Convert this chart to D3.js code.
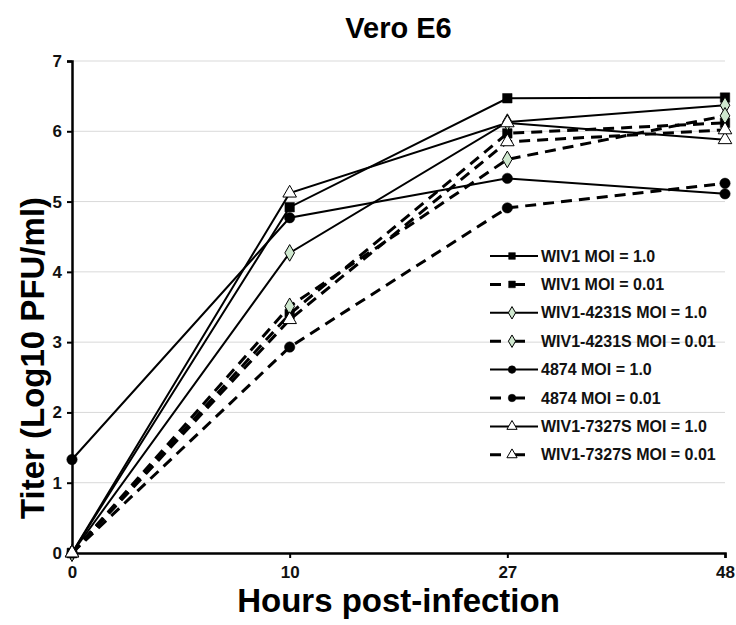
<!DOCTYPE html>
<html>
<head>
<meta charset="utf-8">
<script src="https://cdn.jsdelivr.net/npm/d3@7"></script>
<style>
body{margin:0;background:#fff;}
text{font-family:"Liberation Sans",Arial,sans-serif;font-weight:bold;}
.tick text{font-size:17px;}
</style>
</head>
<body>
<div id="chartContainer"></div>
<script>
// data
const hours=["0","10","27","48"];
const seriesNames=["WIV1 MOI = 1.0","WIV1 MOI = 0.01","WIV1-4231S MOI = 1.0","WIV1-4231S MOI = 0.01",
    "4874 MOI = 1.0","4874 MOI = 0.01","WIV1-7327S MOI = 1.0","WIV1-7327S MOI = 0.01"];
const wiv1Hi=[0,4.92,6.47,6.48];
const wiv1Lo=[0,3.40,5.97,6.12];
const s4231Hi=[0,4.27,6.13,6.37];
const s4231Lo=[0,3.51,5.60,6.22];
const s4874Hi=[1.33,4.77,5.33,5.11];
const s4874Lo=[0,2.93,4.91,5.26];
const s7327Hi=[0,5.12,6.12,5.88];
const s7327Lo=[0,3.32,5.85,6.02];
const yTicks=[0,1,2,3,4,5,6,7];

const markers=["square","square","diamond","diamond","circle","circle","triangle","triangle"];
const dashed=[false,true,false,true,false,true,false,true];
const allValues=[wiv1Hi,wiv1Lo,s4231Hi,s4231Lo,s4874Hi,s4874Lo,s7327Hi,s7327Lo];

const W=736,H=625;
const margin={top:61,right:11,bottom:72,left:72};
const width=W-margin.left-margin.right,
    height=H-margin.top-margin.bottom;

const svg=d3.select("#chartContainer").append("svg")
    .attr("width",W).attr("height",H);
const g=svg.append("g").attr("transform",`translate(${margin.left},${margin.top})`);

const x=d3.scalePoint().domain(hours).range([0,width]);
const y=d3.scaleLinear().domain([0,7]).range([height,0]);

// grid
g.selectAll(".grid").data(yTicks.slice(1)).enter().append("line")
    .attr("x1",0).attr("x2",width)
    .attr("y1",d=>y(d)).attr("y2",d=>y(d))
    .attr("stroke","#d9d9d9").attr("stroke-width",1);

// axes
const yAxis=g.append("g").call(d3.axisLeft(y).tickValues(yTicks).tickFormat(d3.format("d")).tickSize(5).tickPadding(5));
const xAxis=g.append("g").attr("transform",`translate(0,${height})`)
    .call(d3.axisBottom(x).tickSize(5).tickPadding(8));
[yAxis,xAxis].forEach(a=>{
    a.attr("font-family",null);
    a.select(".domain").attr("stroke","#000").attr("stroke-width",2.5);
    a.selectAll(".tick line").attr("stroke","#000").attr("stroke-width",2);
    a.selectAll(".tick text").attr("fill","#111");
});

function fillFor(m){
    if(m=="diamond") return "#cfe8cf";
    if(m=="triangle") return "#fff";
    return "#000";
}
const symTypes={square:d3.symbolSquare,diamond:d3.symbolDiamond,circle:d3.symbolCircle,triangle:d3.symbolTriangle};
const symSize={square:90,diamond:80,circle:85,triangle:80};

const line=d3.line().x((d,i)=>x(hours[i])).y(d=>y(d));

allValues.forEach(function(vals,k){
    g.append("path").datum(vals)
        .attr("d",line)
        .attr("fill","none")
        .attr("stroke","#000")
        .attr("stroke-width",dashed[k]?3:2)
        .attr("stroke-dasharray",dashed[k]?"11,7":null);
});
allValues.forEach(function(vals,k){
    const m=markers[k];
    g.selectAll(".m"+k).data(vals).enter().append("path")
        .attr("transform",(d,i)=>`translate(${x(hours[i])},${y(d)})`)
        .attr("d",d3.symbol().type(symTypes[m]).size(symSize[m])())
        .attr("fill",fillFor(m))
        .attr("stroke","#000")
        .attr("stroke-width",m=="square"||m=="circle"?0.5:1);
});

// legend
const lx=490-margin.left, ly=256-margin.top, step=28.4;
const leg=g.selectAll(".leg").data(seriesNames).enter().append("g")
    .attr("transform",(d,i)=>`translate(${lx},${ly+i*step})`);
leg.append("line").attr("x1",0).attr("x2",48).attr("y1",0).attr("y2",0)
    .attr("stroke","#000")
    .attr("stroke-width",(d,i)=>dashed[i]?3:2)
    .attr("stroke-dasharray",(d,i)=>dashed[i]?"11,13":null);
leg.append("path").attr("transform","translate(22,0)")
    .attr("d",(d,i)=>d3.symbol().type(symTypes[markers[i]]).size(45)())
    .attr("fill",(d,i)=>fillFor(markers[i]))
    .attr("stroke","#000").attr("stroke-width",(d,i)=>markers[i]=="diamond"||markers[i]=="triangle"?1:0.5);
leg.append("text").attr("x",51).attr("y",0).attr("dy","0.35em")
    .style("font-size","16px").attr("fill","#111")
    .text(d=>d);

// titles
svg.append("text").attr("x",margin.left+width/2).attr("y",38)
    .attr("text-anchor","middle").style("font-size","29px").text("Vero E6");
svg.append("text").attr("x",margin.left+width/2).attr("y",612)
    .attr("text-anchor","middle").style("font-size","33px").text("Hours post-infection");
svg.append("text").attr("transform",`translate(44,358) rotate(-90)`)
    .attr("text-anchor","middle").style("font-size","33px").text("Titer (Log10 PFU/ml)");
</script>
</body>
</html>
